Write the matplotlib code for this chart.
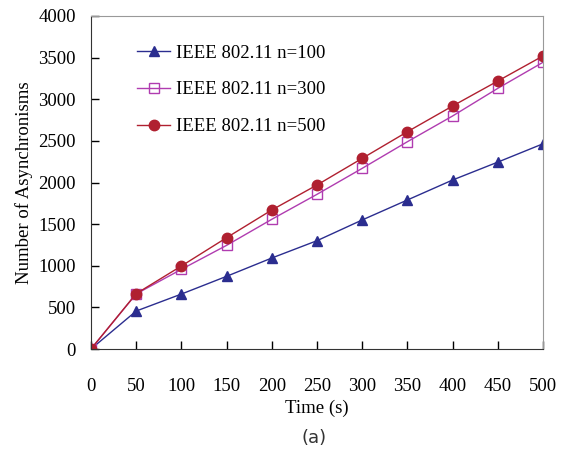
import matplotlib
matplotlib.use("Agg")
import matplotlib.pyplot as plt

# ------------------------------------------
# data
# ------------------------------------------
time_s = [0, 50, 100, 150, 200, 250, 300, 350, 400, 450, 500]
n100 = [0, 456, 660, 873, 1093, 1301, 1550, 1790, 2030, 2245, 2465]
n300 = [0, 662, 957, 1245, 1558, 1858, 2170, 2490, 2799, 3131, 3444]
n500 = [0, 665, 997, 1337, 1670, 1970, 2290, 2610, 2919, 3219, 3520]
labels = ["IEEE 802.11 n=100", "IEEE 802.11 n=300", "IEEE 802.11 n=500"]

plt.rcParams['font.family'] = ['Liberation Serif', 'DejaVu Serif']

fig = plt.figure(figsize=(5.62, 4.57), dpi=100)
ax = fig.add_axes([91/562, 1 - 349/457, 452/562, 333/457])

ax.plot(time_s, n100, color='#2b2d8f', marker='^', markersize=7.5, lw=1, label=labels[0])
ax.plot(time_s, n300, color='#b03cb0', marker='s', markersize=7, lw=1,
        markerfacecolor='none', markeredgewidth=1, label=labels[1])
ax.plot(time_s, n500, color='#b02030', marker='o', markersize=7.5, lw=1, label=labels[2])

ax.set_xlim(0, 500)
ax.set_ylim(0, 4000)
ax.set_xticks(range(0, 501, 50))
ax.set_yticks(range(0, 4001, 500))
ax.tick_params(direction='in', length=6, width=1, labelsize=13.5)
ax.tick_params(axis='x', pad=21)
ax.tick_params(axis='y', pad=11)

for s in ['top', 'right']:
    ax.spines[s].set_color('#999999')
for s in ['left', 'bottom']:
    ax.spines[s].set_color('#333333')

ax.set_xlabel("Time (s)", fontsize=13.5, labelpad=3)
ax.set_ylabel("Number of Asynchronisms", fontsize=13.5, labelpad=4)

ax.legend(loc='upper left', bbox_to_anchor=(0.065, 0.965), frameon=False,
          fontsize=13.5, handlelength=1.75, labelspacing=1.05, handletextpad=0.3)

fig.text(314/562, 1 - 438/457, "(a)", fontsize=13, family='DejaVu Sans',
         ha='center', va='center', color='#333333')

fig.savefig("out.png", dpi=100)
